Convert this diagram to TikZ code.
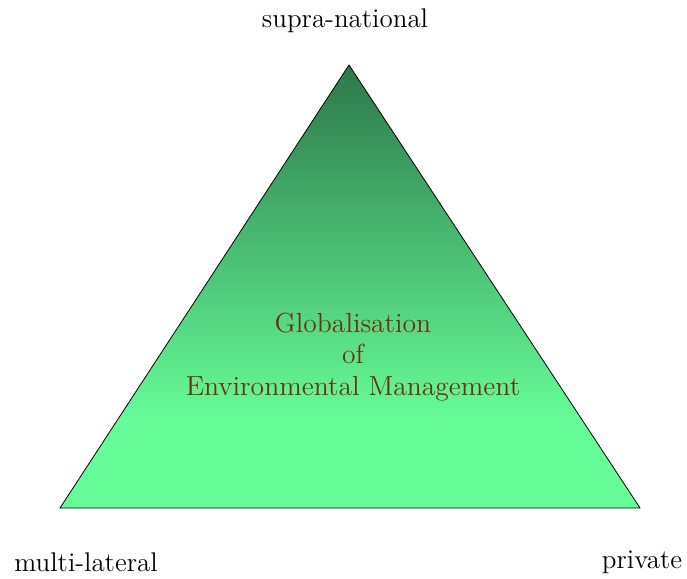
\documentclass[tikz,border=0pt]{standalone}
\usepackage{tikz}
\definecolor{treedark}{RGB}{45,120,75}
\definecolor{treelight}{RGB}{102,252,152}
\definecolor{labelbrown}{RGB}{110,50,10}
\pgfdeclareverticalshading{trishade}{100bp}{color(0bp)=(treelight); color(35bp)=(treelight); color(75bp)=(treedark); color(100bp)=(treedark)}
\begin{document}
\begin{tikzpicture}[x=0.5pt,y=-0.5pt,
    corner/.style={font=\fontsize{13.5}{15.75}\selectfont, inner sep=0pt},
    centre/.style={font=\fontsize{13.8}{15.75}\selectfont, text=labelbrown, align=center, inner sep=0pt}]
      % Page size
      \useasboundingbox (0,0) rectangle (687,579);

      % Corners of the triangle
      \coordinate (top) at (349,65);
      \coordinate (left) at (60,508);
      \coordinate (right) at (640,508);

      % Shaded triangle
      \draw[shading=trishade, line width=0.4pt] (top) -- (right) -- (left) -- cycle;

      % Corner labels
      \node[corner] (supra) at (345,21) {supra-national};
      \node[corner] (multi) at (86,562) {multi-lateral};
      \node[corner] (priv) at (642,562) {private};

      % Text in the middle
      \node[centre] (glob) at (353,357) {Globalisation\\of\\Environmental Management};
    \end{tikzpicture}
\end{document}
